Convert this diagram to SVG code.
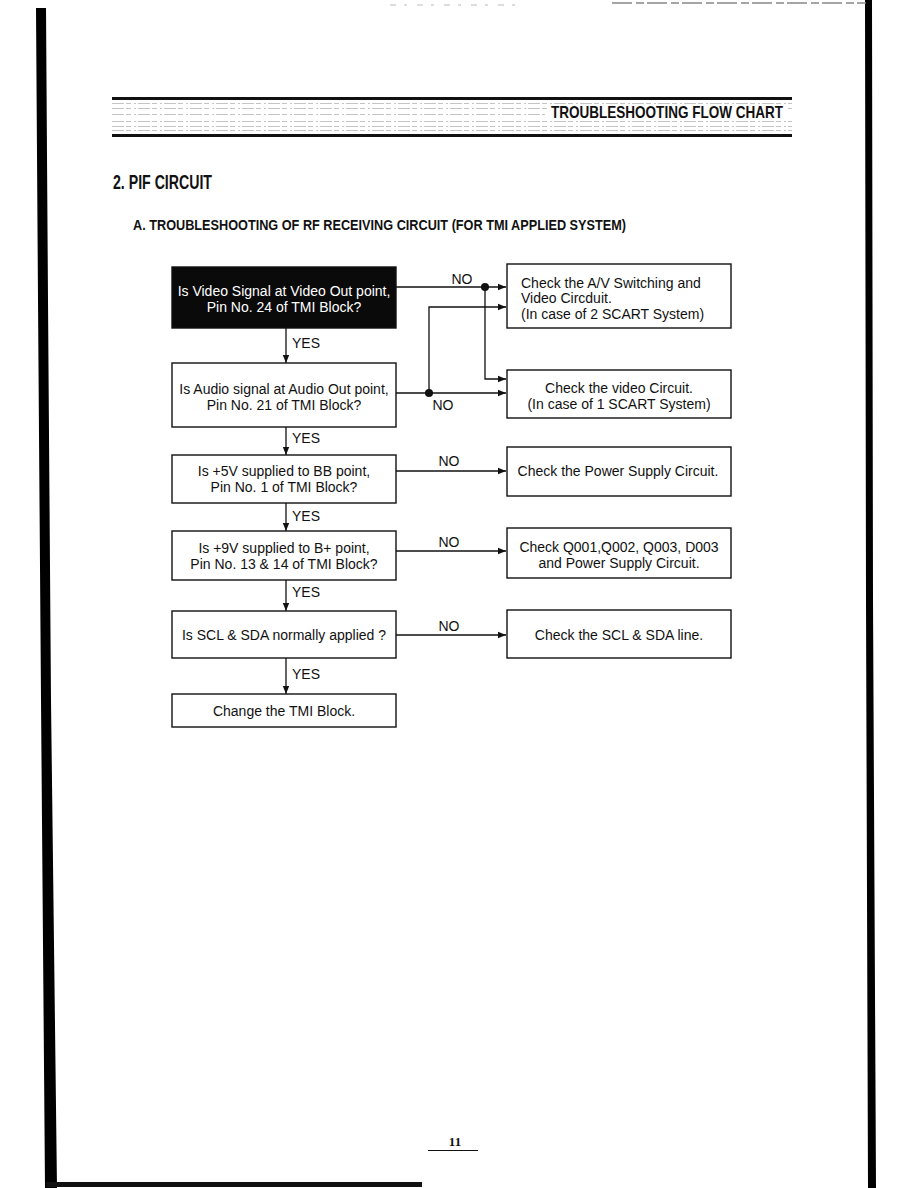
<svg xmlns="http://www.w3.org/2000/svg" width="918" height="1188" viewBox="0 0 918 1188">
<style>
.t{font-family:"Liberation Sans",Arial,sans-serif;font-size:14px;fill:#111}
.tw{font-family:"Liberation Sans",Arial,sans-serif;font-size:14px;fill:#fff}
.c{text-anchor:middle}
.box{fill:#fff;stroke:#111;stroke-width:1.4}
.boxb{fill:#0a0a0a;stroke:#111;stroke-width:1.4}
.ln{fill:none;stroke:#111;stroke-width:1.3}
.h{font-family:"Liberation Sans",Arial,sans-serif;font-weight:bold;fill:#111}
.dash{stroke:#b5b5b5;stroke-width:0.8;stroke-dasharray:12 2 5 3 2 2}
</style>
<defs>
<marker id="ah" viewBox="0 0 10 10" refX="10" refY="5" markerWidth="8" markerHeight="8" markerUnits="userSpaceOnUse" orient="auto">
<path d="M0,1 L10,5 L0,9 Z" fill="#111"/>
</marker>
</defs>
<rect width="918" height="1188" fill="#fff"/>
<g id="page-border">
<polygon points="36,8 46,8 48,300 51,700 57,1188 45,1188 41,700 38,300" fill="#000"/>
<rect x="46" y="1182" width="376" height="5" fill="#111"/>
<polygon points="865,0 872,0 873,600 876,1188 868,1188 866,600" fill="#000"/>
<line x1="612" y1="3" x2="866" y2="3" stroke="#888" stroke-width="1.5" stroke-dasharray="20 4 8 3"/>
<line x1="390" y1="5" x2="520" y2="5" stroke="#bbb" stroke-width="1" stroke-dasharray="6 8 3 10"/>
</g>
<g id="header">
<rect x="112" y="97" width="680" height="3" fill="#111"/>
<rect x="112" y="134" width="680" height="3" fill="#111"/>
<line class="dash" x1="112" y1="103.5" x2="792" y2="103.5"/>
<line class="dash" x1="112" y1="108.5" x2="792" y2="108.5"/>
<line class="dash" x1="112" y1="114.5" x2="545" y2="114.5"/>
<line class="dash" x1="112" y1="121.5" x2="792" y2="121.5"/>
<line class="dash" x1="112" y1="126.5" x2="792" y2="126.5"/>
<line class="dash" x1="112" y1="130.5" x2="792" y2="130.5"/>
<rect x="549" y="104" width="238" height="16" fill="#fff"/>
<text class="h" x="551" y="118" font-size="17" textLength="232" lengthAdjust="spacingAndGlyphs">TROUBLESHOOTING FLOW CHART</text>
</g>
<g id="titles">
<text class="h" x="113" y="189" font-size="20" textLength="99" lengthAdjust="spacingAndGlyphs">2. PIF CIRCUIT</text>
<text class="h" x="133" y="230" font-size="15.5" textLength="493" lengthAdjust="spacingAndGlyphs">A. TROUBLESHOOTING OF RF RECEIVING CIRCUIT (FOR TMI APPLIED SYSTEM)</text>
</g>
<g id="connectors">
<line class="ln" x1="286" y1="328" x2="286" y2="363" marker-end="url(#ah)"/>
<line class="ln" x1="286" y1="427" x2="286" y2="455" marker-end="url(#ah)"/>
<line class="ln" x1="286" y1="503" x2="286" y2="531" marker-end="url(#ah)"/>
<line class="ln" x1="286" y1="580" x2="286" y2="611" marker-end="url(#ah)"/>
<line class="ln" x1="286" y1="658" x2="286" y2="694" marker-end="url(#ah)"/>
<text class="t" x="292" y="348">YES</text>
<text class="t" x="292" y="443">YES</text>
<text class="t" x="292" y="521">YES</text>
<text class="t" x="292" y="597">YES</text>
<text class="t" x="292" y="679">YES</text>
<line class="ln" x1="396" y1="287" x2="506" y2="287" marker-end="url(#ah)"/>
<polyline class="ln" points="485,287 485,379 506,379" marker-end="url(#ah)"/>
<circle cx="485" cy="287" r="4" fill="#111"/>
<line class="ln" x1="396" y1="393" x2="506" y2="393" marker-end="url(#ah)"/>
<polyline class="ln" points="429,393 429,307 506,307" marker-end="url(#ah)"/>
<circle cx="429" cy="393" r="4" fill="#111"/>
<text class="t c" x="462" y="284">NO</text>
<text class="t c" x="443" y="410">NO</text>
<line class="ln" x1="396" y1="471" x2="506" y2="471" marker-end="url(#ah)"/>
<text class="t c" x="449" y="466">NO</text>
<line class="ln" x1="396" y1="551" x2="506" y2="551" marker-end="url(#ah)"/>
<text class="t c" x="449" y="547">NO</text>
<line class="ln" x1="396" y1="635" x2="506" y2="635" marker-end="url(#ah)"/>
<text class="t c" x="449" y="631">NO</text>
</g>
<g id="q1">
<rect class="boxb" x="172" y="267" width="224" height="61"/>
<text class="tw c" x="284" y="296">Is Video Signal at Video Out point,</text>
<text class="tw c" x="284" y="312">Pin No. 24 of TMI Block?</text>
</g>
<g id="q2">
<rect class="box" x="172" y="363" width="224" height="64"/>
<text class="t c" x="284" y="394">Is Audio signal at Audio Out point,</text>
<text class="t c" x="284" y="410">Pin No. 21 of TMI Block?</text>
</g>
<g id="q3">
<rect class="box" x="172" y="455" width="224" height="48"/>
<text class="t c" x="284" y="476">Is +5V supplied to BB point,</text>
<text class="t c" x="284" y="492">Pin No. 1 of TMI Block?</text>
</g>
<g id="q4">
<rect class="box" x="172" y="531" width="224" height="49"/>
<text class="t c" x="284" y="553">Is +9V supplied to B+ point,</text>
<text class="t c" x="284" y="569">Pin No. 13 &amp; 14 of TMI Block?</text>
</g>
<g id="q5">
<rect class="box" x="172" y="611" width="224" height="47"/>
<text class="t c" x="284" y="640">Is SCL &amp; SDA normally applied ?</text>
</g>
<g id="end">
<rect class="box" x="172" y="694" width="224" height="33"/>
<text class="t c" x="284" y="716">Change the TMI Block.</text>
</g>
<g id="r1">
<rect class="box" x="507" y="264" width="224" height="64"/>
<text class="t" x="521" y="288">Check the A/V Switching and</text>
<text class="t" x="521" y="303">Video Circduit.</text>
<text class="t" x="521" y="319">(In case of 2 SCART System)</text>
</g>
<g id="r2">
<rect class="box" x="507" y="370" width="224" height="48"/>
<text class="t c" x="619" y="393">Check the video Circuit.</text>
<text class="t c" x="619" y="409">(In case of 1 SCART System)</text>
</g>
<g id="r3">
<rect class="box" x="507" y="447" width="224" height="49"/>
<text class="t c" x="618" y="476">Check the Power Supply Circuit.</text>
</g>
<g id="r4">
<rect class="box" x="507" y="528" width="224" height="50"/>
<text class="t c" x="619" y="552">Check Q001,Q002, Q003, D003</text>
<text class="t c" x="619" y="568">and Power Supply Circuit.</text>
</g>
<g id="r5">
<rect class="box" x="507" y="610" width="224" height="48"/>
<text class="t c" x="619" y="640">Check the SCL &amp; SDA line.</text>
</g>
<g id="footer">
<text x="455" y="1146" font-family="Liberation Serif,serif" font-weight="bold" font-size="13" text-anchor="middle" fill="#111">11</text>
<line x1="428" y1="1150.5" x2="478" y2="1150.5" stroke="#111" stroke-width="1"/>
</g>
</svg>
